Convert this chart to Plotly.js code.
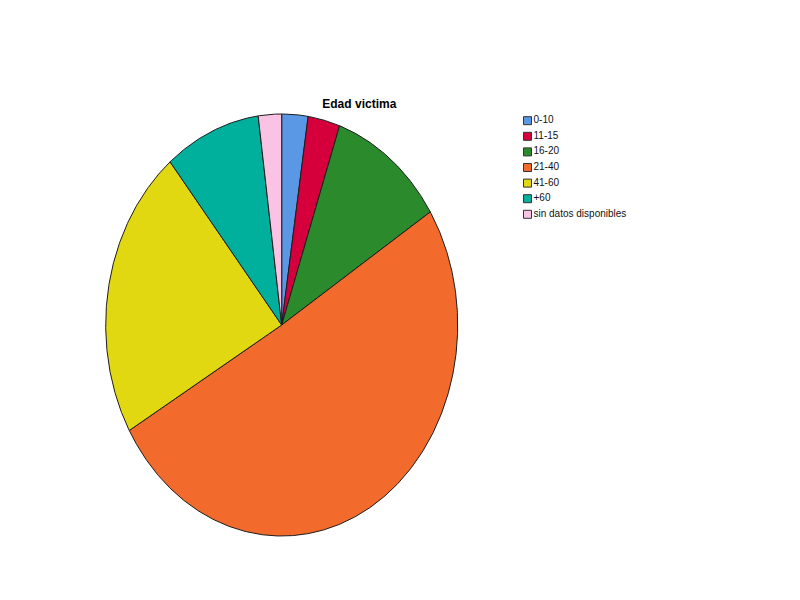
<!DOCTYPE html>
<html>
<head>
<meta charset="utf-8">
<script src="https://cdn.plot.ly/plotly-3.0.1.min.js"></script>
<style>
  html, body { margin: 0; padding: 0; background: #ffffff; }
  #chart { width: 800px; height: 600px; }
</style>
</head>
<body>
<div id="chart"></div>
<script>
// Age groups of victims and their counts
const categories = ['0-10', '11-15', '16-20', '21-40', '41-60', '+60', 'sin datos disponibles'];
const counts = [9, 11, 40, 190, 84, 33, 8];
const colors = ['#5a97e5', '#d5003b', '#2b8a2b', '#f26a2c', '#e2d812', '#00b09c', '#fbc3e3'];
const chartTitle = 'Edad victima';

const W = 800, H = 600;
// Pie geometry (pixels): centre and the two radii of the stretched pie
const cx = 281.7, cy = 325, rx = 176, ry = 211;

const total = counts.reduce((a, b) => a + b, 0);
const traces = [];

// Each slice is a filled wedge, angles measured clockwise from 12 o'clock
let cum = 0;
counts.forEach((v, i) => {
  const a0 = cum / total * 2 * Math.PI;
  const a1 = (cum + v) / total * 2 * Math.PI;
  cum += v;
  const n = Math.max(2, Math.ceil((a1 - a0) / (Math.PI / 360)));
  const xs = [0], ys = [0];
  for (let k = 0; k <= n; k++) {
    const t = a0 + (a1 - a0) * k / n;
    xs.push(Math.sin(t));
    ys.push(Math.cos(t));
  }
  xs.push(0); ys.push(0);
  traces.push({
    type: 'scatter', mode: 'lines', x: xs, y: ys,
    fill: 'toself', fillcolor: colors[i],
    line: { color: '#1c1c1c', width: 1 },
    name: categories[i], showlegend: false,
    hoverinfo: 'text',
    text: categories[i] + ': ' + v,
    xaxis: 'x', yaxis: 'y'
  });
});

// Key: one square swatch per age group with its label
traces.push({
  type: 'scatter', mode: 'markers+text',
  x: categories.map(() => 5.5),
  y: categories.map((c, i) => i),
  text: categories,
  textposition: 'middle right',
  textfont: { family: 'Liberation Sans, Arial, sans-serif', size: 10, color: '#111111' },
  marker: { symbol: 'square', size: 8, color: colors, line: { color: '#333333', width: 1 } },
  showlegend: false, hoverinfo: 'skip',
  xaxis: 'x2', yaxis: 'y2', cliponaxis: false
});

const hidden = {
  showgrid: false, zeroline: false, showticklabels: false,
  showline: false, ticks: '', fixedrange: true
};

// Key rows: first row centred at 120.7px, 15.6px apart
const rowTop = 120.7, rowGap = 15.6;
const keyTopPx = rowTop - rowGap / 2;
const keyBotPx = rowTop + rowGap * 6.5;

const layout = {
  width: W, height: H,
  margin: { l: 0, r: 0, t: 0, b: 0 },
  paper_bgcolor: '#ffffff', plot_bgcolor: '#ffffff',
  showlegend: false,
  font: { family: 'Liberation Sans, Arial, sans-serif', color: '#000000' },
  title: {
    text: chartTitle,
    font: { family: 'Liberation Sans, Arial, sans-serif', size: 12, weight: 'bold', color: '#000000' },
    x: 359.3 / W, xanchor: 'center', xref: 'container',
    y: 1 - 104 / H, yanchor: 'middle', yref: 'container'
  },
  xaxis: Object.assign({}, hidden, {
    domain: [0, 1], range: [-cx / rx, (W - cx) / rx]
  }),
  yaxis: Object.assign({}, hidden, {
    domain: [0, 1], range: [-(H - cy) / ry, cy / ry]
  }),
  xaxis2: Object.assign({}, hidden, {
    domain: [522 / W, 722 / W], range: [0, 200], anchor: 'y2'
  }),
  yaxis2: Object.assign({}, hidden, {
    domain: [1 - keyBotPx / H, 1 - keyTopPx / H], range: [6.5, -0.5], anchor: 'x2'
  })
};

Plotly.newPlot('chart', traces, layout, { displayModeBar: false, staticPlot: true });
</script>
</body>
</html>
